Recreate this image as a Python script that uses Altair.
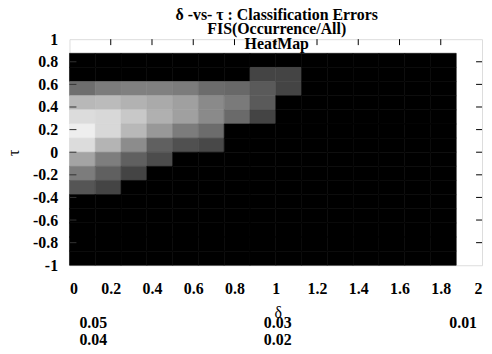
import altair as alt
import pandas as pd

# ---- data ----
x_starts = [0, 0.125, 0.25, 0.375, 0.5, 0.625, 0.75, 0.875, 1.0, 1.125, 1.25, 1.375, 1.5, 1.625, 1.75]
y_starts = [0.75, 0.625, 0.5, 0.375, 0.25, 0.125, 0, -0.125, -0.25, -0.375, -0.5, -0.625, -0.75, -0.875, -1.0]
cell = 0.125

# error values, one row per y_starts entry (top to bottom), one value per x_starts entry
errors = [
    [0, 0, 0, 0, 0, 0, 0, 0, 0, 0, 0, 0, 0, 0, 0],
    [0, 0, 0, 0, 0, 0, 0, 0.016, 0.016, 0, 0, 0, 0, 0, 0],
    [0.0259, 0.0292, 0.0301, 0.0301, 0.0292, 0.0254, 0.0245, 0.0212, 0.016, 0, 0, 0, 0, 0, 0],
    [0.0433, 0.044, 0.0419, 0.04, 0.0376, 0.0325, 0.0287, 0.0212, 0, 0, 0, 0, 0, 0, 0],
    [0.0518, 0.0508, 0.047, 0.0414, 0.0376, 0.0325, 0.0249, 0.016, 0, 0, 0, 0, 0, 0, 0],
    [0.056, 0.0508, 0.0433, 0.0358, 0.0292, 0.0254, 0, 0, 0, 0, 0, 0, 0, 0, 0],
    [0.0518, 0.0424, 0.033, 0.0226, 0.0188, 0.0169, 0, 0, 0, 0, 0, 0, 0, 0, 0],
    [0.0386, 0.0296, 0.0226, 0.0179, 0, 0, 0, 0, 0, 0, 0, 0, 0, 0, 0],
    [0.0292, 0.0226, 0.016, 0, 0, 0, 0, 0, 0, 0, 0, 0, 0, 0, 0],
    [0.02, 0.016, 0, 0, 0, 0, 0, 0, 0, 0, 0, 0, 0, 0, 0],
    [0, 0, 0, 0, 0, 0, 0, 0, 0, 0, 0, 0, 0, 0, 0],
    [0, 0, 0, 0, 0, 0, 0, 0, 0, 0, 0, 0, 0, 0, 0],
    [0, 0, 0, 0, 0, 0, 0, 0, 0, 0, 0, 0, 0, 0, 0],
    [0, 0, 0, 0, 0, 0, 0, 0, 0, 0, 0, 0, 0, 0, 0],
    [0, 0, 0, 0, 0, 0, 0, 0, 0, 0, 0, 0, 0, 0, 0],
]

x_ticks = [0, 0.2, 0.4, 0.6, 0.8, 1, 1.2, 1.4, 1.6, 1.8, 2]
y_ticks = [-1, -0.8, -0.6, -0.4, -0.2, 0, 0.2, 0.4, 0.6, 0.8, 1]
cb_labels = ["0.05", "0.04", "0.03", "0.02", "0.01"]
cb_domain = [0, 0.06]

title_lines = ["δ -vs- τ : Classification Errors", "FIS(Occurrence/All)", "HeatMap"]

# ---- build tables ----
rows = []
for i, y0 in enumerate(y_starts):
    for j, x0 in enumerate(x_starts):
        rows.append({"x": x0, "x2": x0 + cell, "y": y0, "y2": y0 + cell, "err": errors[i][j]})
df = pd.DataFrame(rows)

W, H = 416, 228
FONT = "Liberation Serif"
LBL = dict(labelFont=FONT, labelFontSize=16, labelFontWeight="bold", labelColor="black",
           labelOverlap=False, labelExpr="'' + datum.value",
           ticks=False, domain=False, grid=False,
           titleFont=FONT, titleFontSize=16, titleFontWeight="normal", titleColor="black",
           titleBaseline="middle", titleAlign="center")

xs = alt.Scale(domain=[0, 2], nice=False, zero=False)
ys = alt.Scale(domain=[-1, 1], nice=False, zero=False)
x_axis = alt.Axis(values=x_ticks, title="δ", labelPadding=15, titleX=W / 2 + 2, titleY=48, **LBL)
y_axis = alt.Axis(values=y_ticks, title="τ", labelPadding=12, titleX=-56, titleY=H / 2, **LBL)
cscale = alt.Scale(domain=cb_domain, range=["#000000", "#ffffff"], interpolate="rgb", clamp=True)

heat = alt.Chart(df).mark_rect(strokeWidth=0.6).encode(
    x=alt.X("x:Q", scale=xs, axis=x_axis),
    x2="x2:Q",
    y=alt.Y("y:Q", scale=ys, axis=y_axis),
    y2="y2:Q",
    color=alt.Color("err:Q", scale=cscale, legend=None),
    stroke=alt.Stroke("err:Q", scale=cscale, legend=None),
)

inner_y = pd.DataFrame({"v": y_ticks[1:-1]})
inner_x = pd.DataFrame({"v": x_ticks[1:-1]})

left_ticks = alt.Chart(inner_y).mark_rule(color="#333", strokeWidth=1).encode(
    y=alt.Y("v:Q", scale=ys, axis=y_axis), x=alt.value(0), x2=alt.value(7))
right_ticks = alt.Chart(inner_y).mark_rule(color="black", strokeWidth=1).encode(
    y=alt.Y("v:Q", scale=ys, axis=y_axis), x=alt.value(W - 6), x2=alt.value(W))
top_ticks = alt.Chart(inner_x).mark_rule(color="black", strokeWidth=1).encode(
    x=alt.X("v:Q", scale=xs, axis=x_axis), y=alt.value(0), y2=alt.value(6))

# title lines (gnuplot draws the last one inside the frame)
title_y = [-19.5, -5, 9.5]
title_layers = [
    alt.Chart(pd.DataFrame({"t": [line]})).mark_text(
        font=FONT, fontSize=16, fontWeight="bold", color="black", baseline="alphabetic", align="center"
    ).encode(text="t:N", x=alt.value(W / 2 + 1), y=alt.value(ty))
    for line, ty in zip(title_lines, title_y)
]

# colour-bar labels as gnuplot placed them under the plot
cb_pos_x = [24, 24, 210, 210, 397]
cb_pos_y = [291, 308, 291, 308, 291]
cb_layers = [
    alt.Chart(pd.DataFrame({"t": [lab]})).mark_text(
        font=FONT, fontSize=16, fontWeight="bold", color="black", baseline="alphabetic", align="center"
    ).encode(text="t:N", x=alt.value(px), y=alt.value(py))
    for lab, px, py in zip(cb_labels, cb_pos_x, cb_pos_y)
]

chart = alt.layer(*title_layers, heat, left_ticks, right_ticks, top_ticks, *cb_layers).properties(
    width=W, height=H,
    autosize=alt.AutoSizeParams(type="none"),
    padding={"left": 62, "top": 30, "right": 2, "bottom": 82},
).configure_view(stroke="black", strokeWidth=1, fill="white").configure(background="white")

chart.save("out.html", embed_options={"renderer": "svg", "actions": False})
